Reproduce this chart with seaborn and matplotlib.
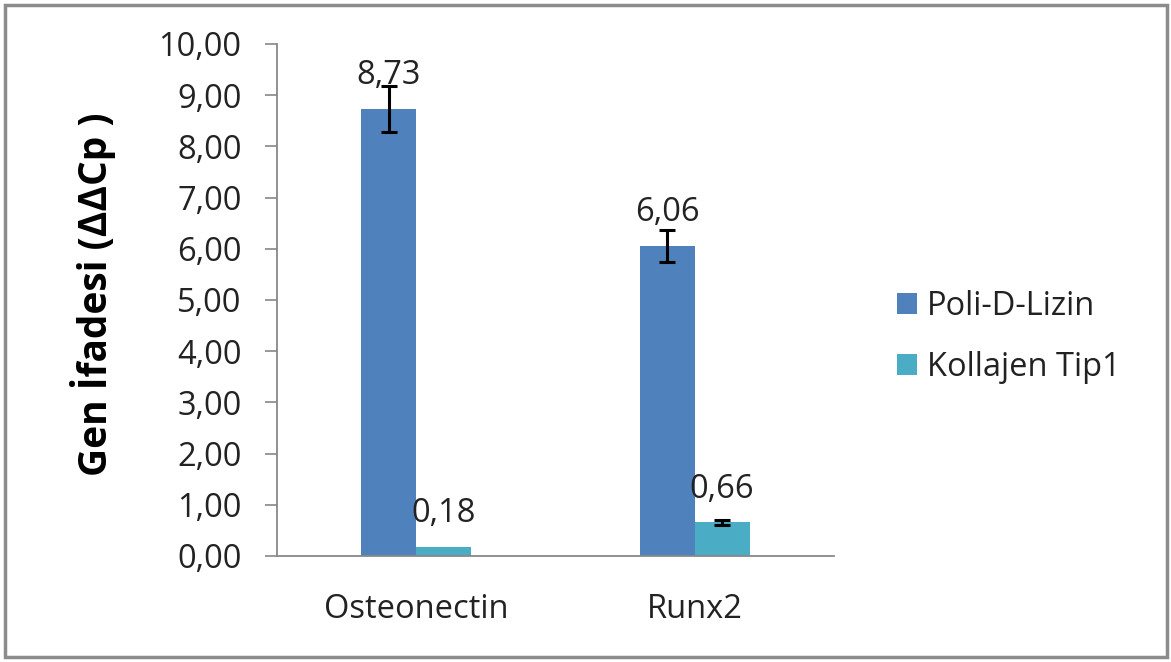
import matplotlib
matplotlib.use("Agg")
import matplotlib.pyplot as plt
import seaborn as sns
import pandas as pd
import numpy as np
from matplotlib.patches import Rectangle

# ---- data ----
genes = ["Osteonectin", "Runx2"]
series = ["Poli-D-Lizin", "Kollajen Tip1"]
poli_values = [8.73, 6.06]
kollajen_values = [0.18, 0.66]
poli_errors = [0.44, 0.31]
kollajen_errors = [0.0, 0.05]
value_labels_poli = ["8,73", "6,06"]
value_labels_kol = ["0,18", "0,66"]
yticks = [0, 1, 2, 3, 4, 5, 6, 7, 8, 9, 10]
ytick_labels = ["0,00", "1,00", "2,00", "3,00", "4,00", "5,00", "6,00", "7,00", "8,00", "9,00", "10,00"]
colors = ["#4F81BD", "#4BACC6"]

df = pd.DataFrame({
    "Gen": genes * 2,
    "Grup": [series[0]] * 2 + [series[1]] * 2,
    "Deger": poli_values + kollajen_values,
    "Hata": poli_errors + kollajen_errors,
    "Etiket": value_labels_poli + value_labels_kol,
})

sns.set_theme(style="white")
plt.rcParams["font.family"] = ["Open Sans", "DejaVu Sans"]

FS = 23.5
W, H = 1171, 662
fig = plt.figure(figsize=(W / 100, H / 100), dpi=100)
ax = fig.add_axes([277 / W, 1 - 556 / H, (834 - 277) / W, (556 - 44) / H])

sns.barplot(data=df, x="Gen", y="Deger", hue="Grup", order=genes, hue_order=series,
            palette=colors, width=0.394, gap=0, errorbar=None, saturation=1,
            edgecolor="none", ax=ax, legend=True)

# error bars and labels from the bar patches
bars = [p for p in ax.patches if isinstance(p, Rectangle) and p.get_height() > 0]
bars = bars[:4]
for bar, (_, row) in zip(bars, df.iterrows()):
    cx = bar.get_x() + bar.get_width() / 2
    h = bar.get_height()
    if row["Hata"] > 0:
        ax.errorbar(cx, h, yerr=row["Hata"], fmt="none", ecolor="black",
                    elinewidth=2.2, capsize=6, capthick=2.2, zorder=5)
    ax.annotate(row["Etiket"], xy=(cx, h), xytext=(0, 12), textcoords="offset points",
                ha="center", va="bottom", fontsize=FS, color="#222222")

ax.set_xlim(-0.5, 1.5)
ax.set_ylim(0, 10)
ax.set_yticks(yticks)
ax.set_yticklabels(ytick_labels, fontsize=FS, color="#222222")
ax.tick_params(axis="y", direction="out", length=8.6, width=1.2, color="#888888", pad=17, left=True)
ax.tick_params(axis="x", length=0, pad=27, labelsize=FS, labelcolor="#222222")
for s in ["top", "right"]:
    ax.spines[s].set_visible(False)
for s in ["left", "bottom"]:
    ax.spines[s].set_color("#888888")
    ax.spines[s].set_linewidth(1.3)
ax.set_xlabel("")
ax.set_ylabel("Gen İfadesi (ΔΔCp )", fontsize=28, fontweight="bold", color="black",
              va="center", ha="center")
ax.yaxis.set_label_coords(93 / W, 1 - 294 / H, transform=fig.transFigure)

# legend
handles, labels = ax.get_legend_handles_labels()
ax.legend(handles, labels, loc="center left", bbox_to_anchor=(897 / W, 1 - 337 / H),
          bbox_transform=fig.transFigure, frameon=False, fontsize=FS, handlelength=0.6,
          handleheight=0.6, handletextpad=0.33, labelspacing=0.86, borderpad=0,
          borderaxespad=0, labelcolor="#222222")

# outer border
fig.patches.append(Rectangle((5 / W, 5 / H), 1162 / W, 652 / H, transform=fig.transFigure,
                             fill=False, edgecolor="#8c8c8c", linewidth=2.5))

fig.savefig("out.png", dpi=100)
